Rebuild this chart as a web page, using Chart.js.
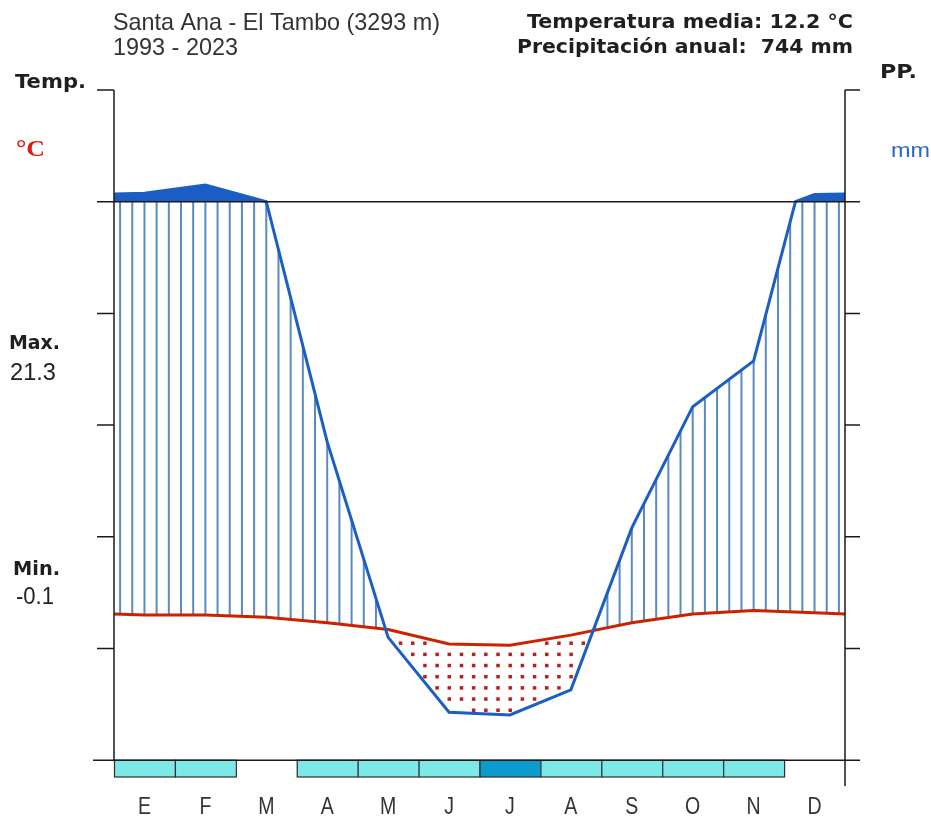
<!DOCTYPE html>
<html>
<head>
<meta charset="utf-8">
<title>Climograma Santa Ana - El Tambo</title>
<script src="https://cdn.jsdelivr.net/npm/chart.js@4.4.1/dist/chart.umd.min.js"></script>
<style>
  html, body { margin: 0; padding: 0; background: #fff; }
  #wrap { position: relative; width: 931px; height: 819px; }
</style>
</head>
<body>
<div id="wrap"><canvas id="chart"></canvas></div>
<script>
// --- data ---
const months = ['E', 'F', 'M', 'A', 'M', 'J', 'J', 'A', 'S', 'O', 'N', 'D'];
const tempMean = [13.0, 13.0, 12.8, 12.3, 11.7, 10.4, 10.3, 11.2, 12.3, 13.1, 13.4, 13.2]; // °C
const precip = [115, 130, 100, 57, 22, 8.6, 8.1, 12.6, 41.6, 63.3, 71.5, 113];          // mm
const frost = [1, 1, 0, 1, 1, 1, 2, 1, 1, 1, 1, 0]; // 1 probable, 2 sure
const tempTicks = [0, 10, 20, 30, 40, 50, 60];

const station = 'Santa Ana - El Tambo (3293 m)';
const period = '1993 - 2023';
const meanLabel = 'Temperatura media: 12.2 °C';
const rainLabel = 'Precipitación anual:  744 mm';
const maxLabel = '21.3';
const minLabel = '-0.1';

// Walter-Lieth: 10 °C = 20 mm, above 100 mm the scale is 1/10
const sc = mm => mm <= 100 ? mm / 2 : 50 + (mm - 100) / 20;

// series closed at both edges of the year
const xs = [0, ...months.map((m, i) => i + 0.5), 12];
const tS = [(tempMean[0] + tempMean[11]) / 2, ...tempMean, (tempMean[0] + tempMean[11]) / 2];
const pS = [(precip[0] + precip[11]) / 2, ...precip, (precip[0] + precip[11]) / 2];

function interp(vals, m) {
    for (let i = 0; i < xs.length - 1; i++) {
        if (m >= xs[i] && m <= xs[i + 1]) {
            const f = (m - xs[i]) / (xs[i + 1] - xs[i]);
            return vals[i] + f * (vals[i + 1] - vals[i]);
        }
    }
    return vals[vals.length - 1];
}

const tPoints = xs.map((x, i) => ({ x, y: tS[i] }));
const pPoints = [];
for (let i = 0; i < xs.length; i++) {
    pPoints.push({ x: xs[i], y: sc(pS[i]) });
    if (i < xs.length - 1 && (pS[i] - 100) * (pS[i + 1] - 100) < 0) {
        const cx = xs[i] + (100 - pS[i]) / (pS[i + 1] - pS[i]) * (xs[i + 1] - xs[i]);
        pPoints.push({ x: cx, y: 50 });
    }
}

function txt(ctx, s, x, yb, font, color, w, align) {
    ctx.save();
    ctx.font = font;
    ctx.fillStyle = color;
    ctx.textBaseline = 'alphabetic';
    const mw = ctx.measureText(s).width;
    const k = w ? (w < 2 ? w : w / mw) : 1;
    let x0 = x;
    if (align === 'right') x0 = x - mw * k;
    if (align === 'center') x0 = x - mw * k / 2;
    ctx.translate(x0, yb);
    ctx.scale(k, 1);
    ctx.fillText(s, 0, 0);
    ctx.restore();
}

const climatePlugin = {
    id: 'climate',
    beforeDatasetsDraw(chart) {
        const { ctx, scales: { x, y } } = chart;
        ctx.save();
        // humid hatching and arid dots
        for (let k = 0; k < 60; k++) {
            const m = (2 * k + 1) / 10;
            const t = interp(tS, m);
            const p = sc(interp(pS, m));
            const px = x.getPixelForValue(m);
            if (p > t) {
                ctx.strokeStyle = '#5a8ac2';
                ctx.lineWidth = 2;
                ctx.beginPath();
                ctx.moveTo(px, y.getPixelForValue(t));
                ctx.lineTo(px, y.getPixelForValue(Math.min(p, 50)));
                ctx.stroke();
            } else {
                ctx.fillStyle = '#b8211c';
                for (let n = 0; n < 60; n++) {
                    const v = n + 0.5;
                    if (v > p + 0.3 && v < t - 0.3) ctx.fillRect(px - 1.5, y.getPixelForValue(v) - 1.5, 3.5, 3.5);
                }
            }
        }
        ctx.restore();
    },
    afterDraw(chart) {
        const { ctx, scales: { x, y } } = chart;
        const L = x.getPixelForValue(0), R = x.getPixelForValue(12);
        ctx.save();

        // frost bars
        const fy0 = y.getPixelForValue(0), fy1 = y.getPixelForValue(-1.5);
        frost.forEach((f, i) => {
            if (!f) return;
            const a = x.getPixelForValue(i), b = x.getPixelForValue(i + 1);
            ctx.fillStyle = f === 2 ? '#0b9bcf' : '#7de8e8';
            ctx.fillRect(a, fy0, b - a, fy1 - fy0);
            ctx.strokeStyle = '#2e2e2e';
            ctx.lineWidth = 1.2;
            ctx.strokeRect(a + 0.5, fy0, b - a, fy1 - fy0);
        });

        // axes
        ctx.strokeStyle = '#1a1a1a';
        ctx.lineWidth = 1.5;
        ctx.beginPath();
        ctx.moveTo(L, y.getPixelForValue(60)); ctx.lineTo(L, y.getPixelForValue(0));
        ctx.moveTo(R, y.getPixelForValue(60)); ctx.lineTo(R, y.getPixelForValue(-2.3));
        tempTicks.forEach(v => {
            const py = y.getPixelForValue(v);
            ctx.moveTo(L - 17, py); ctx.lineTo(L, py);
            ctx.moveTo(R, py); ctx.lineTo(R + 15, py);
        });
        ctx.moveTo(L - 17, y.getPixelForValue(50)); ctx.lineTo(R + 13, y.getPixelForValue(50));
        ctx.moveTo(L - 21, y.getPixelForValue(0)); ctx.lineTo(R + 15, y.getPixelForValue(0));
        ctx.stroke();

        // month labels
        months.forEach((m, i) => {
            txt(ctx, m, x.getPixelForValue(i + 0.5), 814, '23px "Liberation Sans", Arial, sans-serif', '#333', 0.85, 'center');
        });

        // header
        txt(ctx, station, 113, 30, '24px "Liberation Sans", Arial, sans-serif', '#333', 327);
        txt(ctx, period, 113, 55, '24px "Liberation Sans", Arial, sans-serif', '#333', 125);
        txt(ctx, meanLabel, 853, 28, 'bold 19px "DejaVu Sans", Verdana, sans-serif', '#1f1f1f', 326, 'right');
        txt(ctx, rainLabel, 853, 53, 'bold 19px "DejaVu Sans", Verdana, sans-serif', '#1f1f1f', 336, 'right');

        // side labels
        txt(ctx, 'Temp.', 15, 88, 'bold 19px "DejaVu Sans", Verdana, sans-serif', '#1f1f1f', 71);
        txt(ctx, '°C', 16, 156, 'bold 23px "Liberation Serif", "Times New Roman", serif', '#e01b12', 29);
        txt(ctx, 'PP.', 880, 78, 'bold 19px "DejaVu Sans", Verdana, sans-serif', '#1f1f1f', 37);
        txt(ctx, 'mm', 891, 157, '21px "Liberation Sans", Arial, sans-serif', '#2a68c4', 39);
        txt(ctx, 'Max.', 9, 349, 'bold 19px "DejaVu Sans", Verdana, sans-serif', '#1f1f1f', 51);
        txt(ctx, maxLabel, 10, 380, '23px "Liberation Sans", Arial, sans-serif', '#222', 46);
        txt(ctx, 'Min.', 13, 575, 'bold 19px "DejaVu Sans", Verdana, sans-serif', '#1f1f1f', 47);
        txt(ctx, minLabel, 16, 604, '23px "Liberation Sans", Arial, sans-serif', '#222', 38);
        ctx.restore();
    }
};

new Chart(document.getElementById('chart'), {
    type: 'line',
    data: {
        datasets: [
            {
                label: 'Precipitación (mm)',
                data: pPoints,
                borderColor: '#1c5fc2',
                borderWidth: 3,
                pointRadius: 0,
                tension: 0,
                fill: { target: { value: 50 }, above: '#1b5dc6', below: 'rgba(0,0,0,0)' },
            },
            {
                label: 'Temperatura (°C)',
                data: tPoints,
                borderColor: '#cc2200',
                borderWidth: 3,
                pointRadius: 0,
                tension: 0,
                fill: false,
            },
        ],
    },
    options: {
        responsive: true,
        maintainAspectRatio: false,
        animation: false,
        layout: { padding: { left: 114, right: 86, top: 90, bottom: 42 } },
        scales: {
            x: { type: 'linear', min: 0, max: 12, display: false },
            y: { min: -1.5, max: 60, display: false },
        },
        plugins: { legend: { display: false }, tooltip: { enabled: false } },
    },
    plugins: [climatePlugin],
});
</script>
</body>
</html>
